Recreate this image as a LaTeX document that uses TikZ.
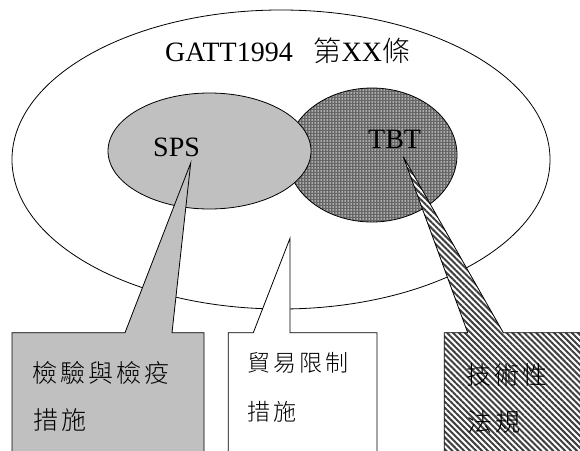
\documentclass[tikz,border=0pt]{standalone}
\usepackage{fontspec}
\setmainfont{Liberation Serif}
\newfontfamily\cjk{Noto Sans CJK TC Light}
\usetikzlibrary{patterns.meta}
\definecolor{silver}{HTML}{C0C0C0}
\tikzset{
  outline/.style={draw=black, line width=0.8pt, line join=miter},
  lbl/.style={inner sep=0pt, font=\fontsize{28}{30}\selectfont},
  boxtext/.style={inner sep=0pt, anchor=west, font=\cjk\fontsize{25}{27}\selectfont},
  dotfill/.style={preaction={fill=black!60}, pattern={Dots[radius=0.75pt,distance=3pt]}, pattern color=white},
  stripefill/.style={preaction={fill=white}, pattern={Lines[angle=-45,distance=4.2pt,line width=2pt]}, pattern color=black!75},
}
\newcommand\gp{\kern3pt}
\newcommand\gq{\kern3pt}
\begin{document}
\begin{tikzpicture}[x=1pt,y=-1pt]
\useasboundingbox (0,0) rectangle (580,450);
\fill[white] (0,0) rectangle (580,450);
% ellipses
\draw[outline, fill=white] (281,159.5) ellipse [x radius=269pt, y radius=149.5pt];
\draw[outline, dotfill] (372,155) ellipse [x radius=85pt, y radius=67pt];
\draw[outline, fill=silver] (209.5,151) ellipse [x radius=101.5pt, y radius=58pt];
% labels
\node[lbl, anchor=base west] (gatt) at (165,61.7) {GATT1994\hspace{21pt}{\cjk 第}XX{\cjk 條}};
\node[lbl, anchor=base west] (sps) at (153,156.7) {SPS};
\node[lbl, anchor=base west] (tbt) at (368,148) {TBT};
% callout apexes
\coordinate (a1) at (190.7,163);
\coordinate (a2) at (290,238.3);
\coordinate (a3) at (403.3,156.7);
% left callout
\draw[outline, fill=silver] (12,460) -- (12,332.7) -- (125,332.7) -- (a1) -- (172,332.7) -- (204,332.7) -- (204,460);
% middle callout
\draw[outline, fill=white] (228.3,460) -- (228.3,332.7) -- (253.3,332.7) -- (a2) -- (290,332.7) -- (377,332.7) -- (377,460);
% right callout
\draw[outline, stripefill] (444.3,460) -- (444.3,332.7) -- (467.7,332.7) -- (a3) -- (503.3,332.7) -- (590,332.7) -- (590,460);
% box texts
\node[boxtext] (l1) at (32,373) {檢\gp 驗\gp 與\gp 檢\gp 疫};
\node[boxtext] (l2) at (33,420) {措\gp 施};
\node[boxtext, font=\cjk\fontsize{23}{25}\selectfont] (m1) at (247,363) {貿\gq 易\gq 限\gq 制};
\node[boxtext, font=\cjk\fontsize{23}{25}\selectfont] (m2) at (247,412) {措\gq 施};
\node[boxtext] (r1) at (466,375) {技\gq 術\gq 性};
\node[boxtext] (r2) at (467,422) {法\gq 規};
\end{tikzpicture}
\end{document}
